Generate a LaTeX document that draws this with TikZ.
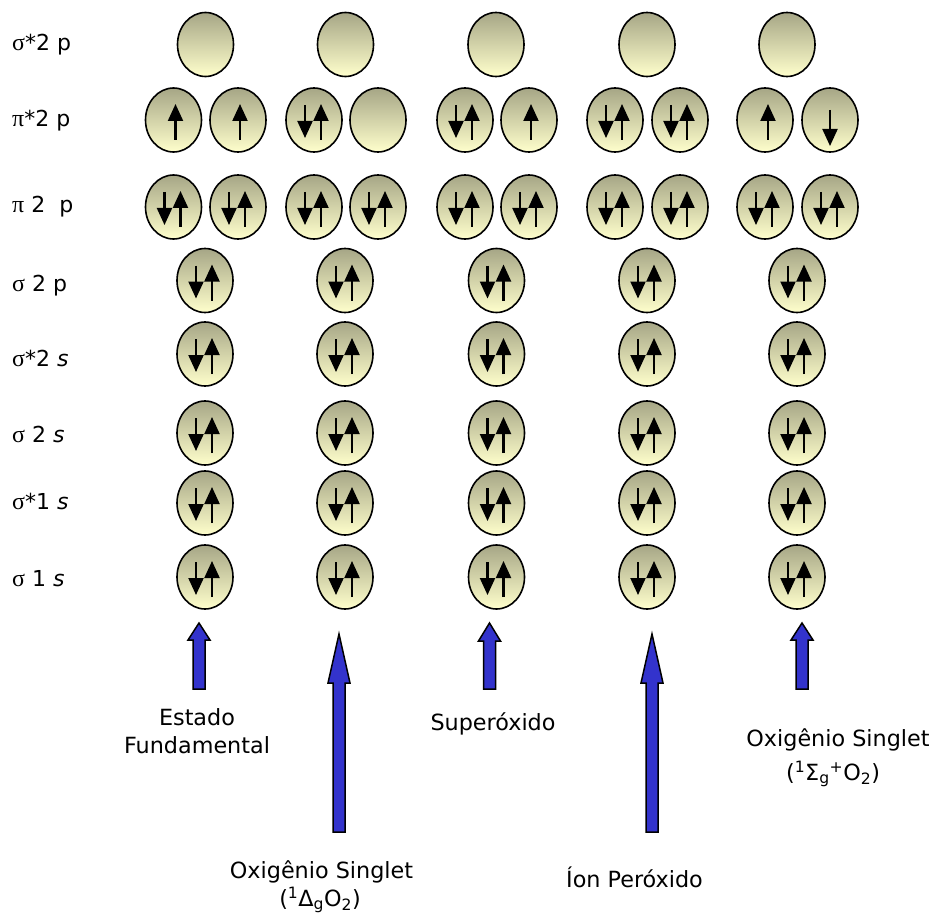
\documentclass[tikz,border=0pt]{standalone}
\usepackage{fontspec}
\setmainfont{DejaVu Sans}
\newfontfamily\grk{Liberation Serif}
\usetikzlibrary{shapes.geometric,arrows.meta}
\definecolor{orbtop}{RGB}{166,166,134}
\definecolor{orbbot}{RGB}{255,255,204}
\definecolor{bluearr}{RGB}{51,51,204}
\newcommand\uspin[2][0]{\draw[spin] ([shift={(#1,20)}]#2.center) -- ([shift={(#1,-16)}]#2.center);}
\newcommand\dspin[2][0]{\draw[spin] ([shift={(#1,-15)}]#2.center) -- ([shift={(#1,18)}]#2.center);}
\newcommand\spinpair[1]{\dspin[-9]{#1}\uspin[7]{#1}}
\newcommand\blockarr[4]{\draw[bigarr] (#1-6,#4) -- (#1-6,#3) -- (#1-11,#3) -- (#1,#2) -- (#1+11,#3) -- (#1+6,#3) -- (#1+6,#4) -- cycle;}
\begin{document}
\begin{tikzpicture}[x=1pt,y=-1pt,
 orb/.style={ellipse,draw=black,line width=1.6pt,minimum width=56pt,minimum height=64pt,inner sep=0pt,top color=orbtop,bottom color=orbbot},
 spin/.style={line width=2.1pt,-{Triangle[width=15pt,length=17pt]}},
 bigarr/.style={draw=black,line width=1.5pt,fill=bluearr,line join=miter},
 lvl/.style={anchor=base west,inner sep=0pt,font=\fontsize{22}{26}\selectfont},
 lab/.style={anchor=base,inner sep=0pt,font=\fontsize{22.3}{27}\selectfont}]
\useasboundingbox[fill=white] (0,0) rectangle (936,917);

% level labels
\node[lvl] (l1) at (12,51) {{\grk\fontsize{24}{26}\selectfont σ}*2 p};
\node[lvl] (l2) at (12,127) {{\grk\fontsize{24}{26}\selectfont π}*2 p};
\node[lvl] (l3) at (12,213) {{\grk\fontsize{24}{26}\selectfont π} 2\ \ p};
\node[lvl] (l4) at (12,291) {{\grk\fontsize{24}{26}\selectfont σ} 2 p};
\node[lvl] (l5) at (12,366) {{\grk\fontsize{24}{26}\selectfont σ}*2 \textit{s}};
\node[lvl] (l6) at (12,442) {{\grk\fontsize{24}{26}\selectfont σ} 2 \textit{s}};
\node[lvl] (l7) at (12,509) {{\grk\fontsize{24}{26}\selectfont σ}*1 \textit{s}};
\node[lvl] (l8) at (12,586) {{\grk\fontsize{24}{26}\selectfont σ} 1 \textit{s}};

% sigma*2p (empty)
\node[orb] (a1) at (205.5,44.5) {};
\node[orb] (a2) at (345.5,44.5) {};
\node[orb] (a3) at (496,44.5) {};
\node[orb] (a4) at (647,44.5) {};
\node[orb] (a5) at (787,44.5) {};

% pi*2p
\node[orb] (b1l) at (173.5,120) {}; \node[orb] (b1r) at (238,120) {};
\node[orb] (b2l) at (314,120) {};   \node[orb] (b2r) at (378,120) {};
\node[orb] (b3l) at (465,120) {};   \node[orb] (b3r) at (529,120) {};
\node[orb] (b4l) at (615,120) {};   \node[orb] (b4r) at (680,120) {};
\node[orb] (b5l) at (765,120) {};   \node[orb] (b5r) at (830,120) {};
\uspin[2]{b1l} \uspin[2]{b1r}
\spinpair{b2l}
\spinpair{b3l} \uspin[2]{b3r}
\spinpair{b4l} \spinpair{b4r}
\uspin[3]{b5l}
\draw[spin] ([shift={(0,-10)}]b5r.center) -- ([shift={(0,26)}]b5r.center);

% pi 2p
\node[orb] (c1l) at (173.5,207) {}; \node[orb] (c1r) at (238,207) {};
\node[orb] (c2l) at (314,207) {};   \node[orb] (c2r) at (378,207) {};
\node[orb] (c3l) at (465,207) {};   \node[orb] (c3r) at (529,207) {};
\node[orb] (c4l) at (615,207) {};   \node[orb] (c4r) at (680,207) {};
\node[orb] (c5l) at (765,207) {};   \node[orb] (c5r) at (830,207) {};
\foreach \n in {c1l,c1r,c2l,c2r,c3l,c3r,c4l,c4r,c5l,c5r}{\spinpair{\n}}

% single paired rows
\foreach \y/\r in {280.5/d,354/e,433/f,503/g,577/h}{
  \node[orb] (\r1) at (205,\y) {};
  \node[orb] (\r2) at (345,\y) {};
  \node[orb] (\r3) at (496.5,\y) {};
  \node[orb] (\r4) at (647,\y) {};
  \node[orb] (\r5) at (797,\y) {};
  \foreach \k in {1,...,5}{\spinpair{\r\k}}
}

% blue arrows
\blockarr{199}{623}{640}{689}
\blockarr{339}{634}{683}{832}
\blockarr{489.5}{623}{641}{689}
\blockarr{652}{634}{683}{832}
\blockarr{802}{623}{640}{689}

% labels
\node[lab] (t1a) at (197,725) {Estado};
\node[lab] (t1b) at (197,753) {Fundamental};
\node[lab] (t2a) at (321.5,878) {Oxigênio Singlet};
\node[lab] (t2b) at (320,906) {(\textsuperscript{1}Δ\textsubscript{g}O\textsubscript{2})};
\node[lab] (t3) at (493,730) {Superóxido};
\node[lab] (t4) at (634.5,887) {Íon Peróxido};
\node[lab] (t5a) at (838,746) {Oxigênio Singlet};
\node[lab] (t5b) at (833,780) {(\textsuperscript{1}Σ\textsubscript{g}\textsuperscript{+}O\textsubscript{2})};
\end{tikzpicture}
\end{document}
